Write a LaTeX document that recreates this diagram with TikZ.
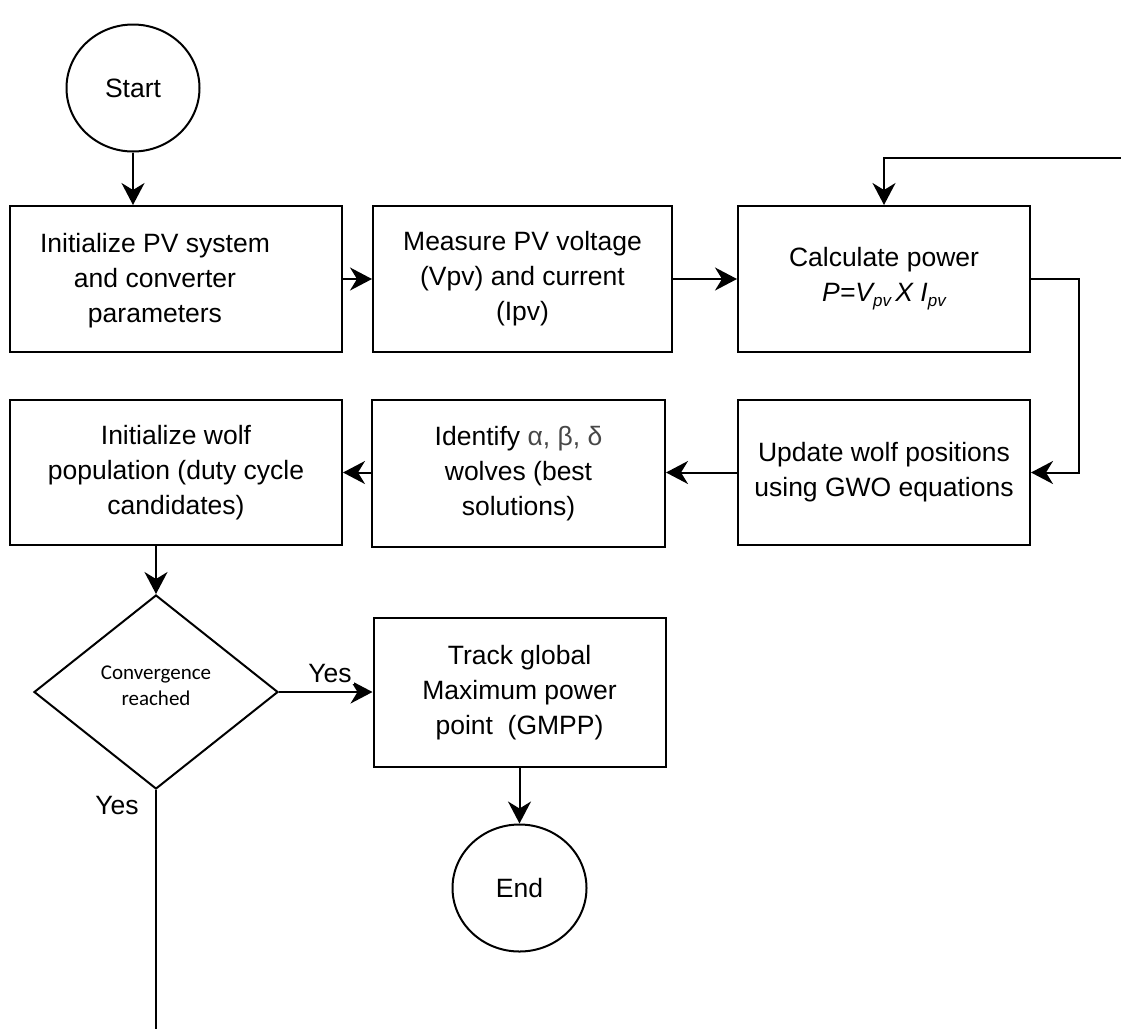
\documentclass[tikz,border=0pt]{standalone}
\usepackage{fontspec}
\setmainfont{Liberation Sans}
\newfontfamily\calib{Carlito}
\usetikzlibrary{arrows.meta,shapes.geometric}
\begin{document}
\begin{tikzpicture}[x=1pt,y=-1pt,
  line width=2pt,
  every node/.style={font=\fontsize{26.5}{35}\selectfont, align=center, inner sep=0pt},
  proc/.style={draw, rectangle, minimum height=146pt},
  term/.style={draw, ellipse, minimum width=133pt, minimum height=127pt},
  arr/.style={-{Stealth[length=22pt,width=23pt,inset=7pt]}}]
\useasboundingbox (0,0) rectangle (1121,1029);
% terminals
\node[term] (start) at (133,88) {Start};
\node[term, minimum width=134pt, minimum height=127pt] (end) at (519.5,888) {End};
% row 1
\node[proc, minimum width=332pt] (b1) at (176,279) {};
\node (b1t) at (155,281) {Initialize PV system\\and converter\\parameters};
\node[proc, minimum width=299pt] (b2) at (522.5,279) {Measure PV voltage\\(Vpv) and current\\(Ipv)};
\node[proc, minimum width=292pt] (b3) at (884,279) {Calculate power\\\itshape P=V\raisebox{-5pt}{\fontsize{17}{17}\selectfont pv}\,X I\raisebox{-5pt}{\fontsize{17}{17}\selectfont pv}};
% row 2
\node[proc, minimum width=292pt, minimum height=145pt] (b4) at (884,472.5) {Update wolf positions\\using GWO equations};
\node[proc, minimum width=293pt, minimum height=147pt] (b5) at (518.5,473.5) {Identify {\color{black!72}α, β, δ}\\wolves (best\\solutions)};
\node[proc, minimum width=332pt, minimum height=145pt] (b6) at (176,472.5) {Initialize wolf\\population (duty cycle\\candidates)};
% decision
\node[draw, diamond, minimum width=244pt, minimum height=194pt] (dec) at (156,692) {};
\node[font=\calib\fontsize{21}{26}\selectfont] (dect) at (156,686) {Convergence\\reached};
\node[proc, minimum width=292pt, minimum height=149pt] (b7) at (519.5,692.5) {Track global\\Maximum power\\point\ \ (GMPP)};
% free ends
\coordinate (fbin) at (1121,158);
\coordinate (bottom) at (156,1029);
% connectors
\draw[arr] (start) -- (b1.north -| start);
\draw[arr] (b1) -- (b2);
\draw[arr] (b2) -- (b3);
\draw[arr] (fbin) -| (b3.north);
\draw[arr] (b3.east) -- ++(48,0) |- (b4.east);
\draw[arr] (b4.west) -- (b4.west -| b5.east);
\draw[arr] (b5.west |- b4.west) -- (b6.east |- b4.west);
\draw[arr] (b6.south -| dec.north) -- (dec.north);
\draw[arr] (dec.east) -- (b7.west |- dec.east);
\draw[arr] (b7) -- (end);
\draw (dec.south) -- (bottom);
% labels
\node[fill=white, inner sep=2pt] (yes1) at (330,673) {Yes};
\node (yes2) at (117,805) {Yes};
\end{tikzpicture}
\end{document}
